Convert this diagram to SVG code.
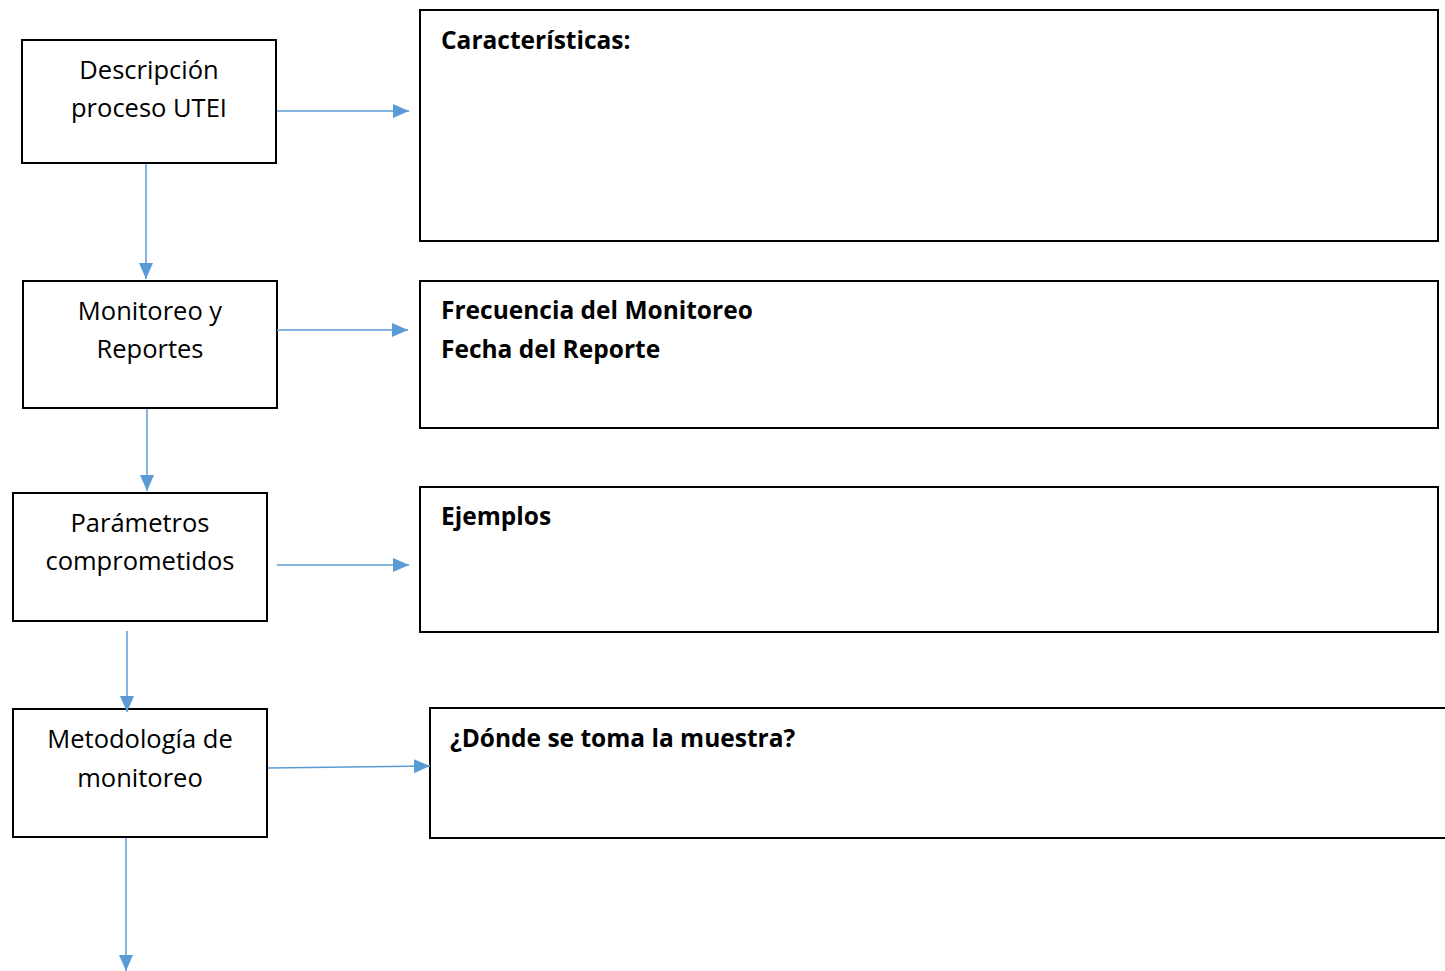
<svg xmlns="http://www.w3.org/2000/svg" width="1445" height="971" viewBox="0 0 1445 971">
<style>
.box{fill:#fff;stroke:#000;stroke-width:2}
.t{font-family:"Open Sans","Liberation Sans",Arial,sans-serif;font-size:25.5px;fill:#000;text-anchor:middle}
.b{font-family:"Open Sans","Liberation Sans",Arial,sans-serif;font-size:24.5px;font-weight:bold;fill:#000}
.c{stroke:#5B9BD5;stroke-width:1.5;fill:none;marker-end:url(#ah)}
</style>
<defs>
<marker id="ah" markerUnits="userSpaceOnUse" markerWidth="16" markerHeight="14" refX="16" refY="7" orient="auto">
<path d="M0,0 L16,7 L0,14 Z" fill="#5B9BD5"/>
</marker>
</defs>
<rect width="1445" height="971" fill="#fff"/>
<g id="n1"><rect class="box" x="22" y="40" width="254" height="123"/>
<text class="t" x="149" y="79">Descripción</text><text class="t" x="149" y="117">proceso UTEI</text></g>
<g id="n2"><rect class="box" x="23" y="281" width="254" height="127"/>
<text class="t" x="150" y="320">Monitoreo y</text><text class="t" x="150" y="358">Reportes</text></g>
<g id="n3"><rect class="box" x="13" y="493" width="254" height="128"/>
<text class="t" x="140" y="532">Parámetros</text><text class="t" x="140" y="570">comprometidos</text></g>
<g id="n4"><rect class="box" x="13" y="709" width="254" height="128"/>
<text class="t" x="140" y="748">Metodología de</text><text class="t" x="140" y="787">monitoreo</text></g>
<g id="r1"><rect class="box" x="420" y="10" width="1018" height="231"/>
<text class="b" x="441" y="49">Características:</text></g>
<g id="r2"><rect class="box" x="420" y="281" width="1018" height="147"/>
<text class="b" x="441" y="319">Frecuencia del Monitoreo</text><text class="b" x="441" y="358">Fecha del Reporte</text></g>
<g id="r3"><rect class="box" x="420" y="487" width="1018" height="145"/>
<text class="b" x="441" y="525">Ejemplos</text></g>
<g id="r4"><rect class="box" x="430" y="708" width="1030" height="130"/>
<text class="b" x="450" y="747">¿Dónde se toma la muestra?</text></g>
<g id="connectors">
<line class="c" x1="277" y1="111" x2="409" y2="111"/>
<line class="c" x1="146" y1="164" x2="146" y2="279"/>
<line class="c" x1="277" y1="330" x2="408" y2="330"/>
<line class="c" x1="147" y1="409" x2="147" y2="491"/>
<line class="c" x1="277" y1="565" x2="409" y2="565"/>
<line class="c" x1="127" y1="631" x2="127" y2="712"/>
<line class="c" x1="268" y1="768" x2="430" y2="766"/>
<line class="c" x1="126" y1="838" x2="126" y2="971"/>
</g>
</svg>
